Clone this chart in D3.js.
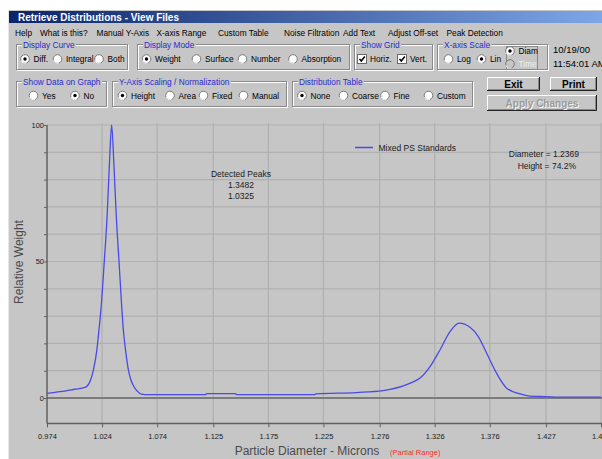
<!DOCTYPE html>
<html><head><meta charset="utf-8">
<script src="https://cdn.jsdelivr.net/npm/d3@7"></script>
<style>
html,body{margin:0;padding:0;background:#fff;overflow:hidden}
svg{display:block;font-family:"Liberation Sans",Arial,sans-serif}
</style></head>
<body>
<svg id="c" width="602" height="459"></svg>
<script>
// ---------------- DATA ----------------
const seriesName = "Mixed PS Standards";
const diameters = [0.974,0.986,0.999,1.0085,1.013,1.016,1.0194,1.0212,1.0235,1.026,1.0285,1.0307,1.0327,
  1.0348,1.0371,1.0394,1.0416,1.0433,1.0455,1.0478,1.0503,1.0524,1.0557,1.060,1.065,1.118,1.119,1.145,1.146,
  1.217,1.218,1.255,1.279,1.2975,1.305,1.3127,1.3218,1.3308,1.3399,1.3482,1.3581,1.3656,1.3732,1.3823,1.3914,
  1.4035,1.4125,1.4271,1.440,1.477];
const relWeight = [1.7,2.3,3.2,3.9,6,10,18,25,35,50,66,86,100,
  85,65,50,35,25,17,10.5,6.5,4.6,2.6,1.4,1.2,1.2,1.6,1.6,1.2,
  1.2,1.5,2.0,2.7,4.4,5.6,7.3,11.5,17.6,24.3,27.4,25.9,22.5,16.4,9.0,3.6,
  1.5,0.7,0.5,0.3,0.3];
const xTickValues = [0.974,1.024,1.074,1.125,1.175,1.225,1.276,1.326,1.376,1.427,1.477];
const xTickLabels = ["0.974","1.024","1.074","1.125","1.175","1.225","1.276","1.326","1.376","1.427","1.477"];
const yGridValues = [10,20,30,40,50,60,70,80,90,100];
const yTickValues = [0,10,20,30,40,50,60,70,80,90,100];
const yLabelValues = [0,50,100];
const detectedPeaks = ["1.3482","1.0325"];
const cursorInfo = ["Diameter = 1.2369","Height = 74.2%"];
const menuItems = [["Help",15],["What is this?",40],["Manual Y-Axis",96.5],["X-axis Range",156.5],["Custom Table",218],
  ["Noise Filtration",284],["Add Text",343],["Adjust Off-set",388],["Peak Detection",446.5]];

// ---------------- SETUP ----------------
const svg = d3.select("#c");
const BG = "#c6c6c6";
const UIF = "8.3px";
const defs = svg.append("defs");
const grad = defs.append("linearGradient").attr("id","tb").attr("x1","0").attr("x2","1");
grad.append("stop").attr("offset","0").attr("stop-color","#0a246a");
grad.append("stop").attr("offset","1").attr("stop-color","#7ea6e6");

// window body
svg.append("rect").attr("x",8).attr("y",10).attr("width",600).attr("height",460).attr("fill",BG);
svg.append("line").attr("x1",8.5).attr("x2",8.5).attr("y1",10).attr("y2",459).attr("stroke","#e6e6e6");
svg.append("rect").attr("x",9).attr("y",11).attr("width",593).attr("height",12).attr("fill","url(#tb)");
svg.append("text").attr("x",18).attr("y",20.5).attr("fill","#fff").attr("font-weight","bold")
  .attr("font-size","10px").text("Retrieve Distributions - View Files");

// menu
svg.selectAll("text.menu").data(menuItems).join("text").attr("class","menu")
  .attr("x",d=>d[1]).attr("y",36).attr("font-size",UIF).attr("fill","#000").text(d=>d[0]);

// ---------- controls ----------
function groupBox(x,y,w,h,label){
  const g = svg.append("g");
  g.append("rect").attr("x",x+0.5).attr("y",y+0.5).attr("width",w).attr("height",h).attr("fill","none").attr("stroke","#fff");
  g.append("rect").attr("x",x-0.5).attr("y",y-0.5).attr("width",w).attr("height",h).attr("fill","none").attr("stroke","#8a8a8a");
  const t = g.append("text").attr("x",x+6).attr("y",y+3).attr("font-size",UIF).attr("fill","#2a2ad0").text(label);
  const bb = t.node().getBBox();
  g.insert("rect","text").attr("x",bb.x-1).attr("y",y-2).attr("width",bb.width+2).attr("height",4).attr("fill",BG);
  return g;
}
function radio(cx,cy,label,on,disabled){
  const g = svg.append("g");
  g.append("circle").attr("cx",cx).attr("cy",cy).attr("r",4.3).attr("fill",disabled?BG:"#fff").attr("stroke","#7a7a7a").attr("stroke-width",1);
  g.append("path").attr("d",`M${cx-3.9},${cy+1.5} A4.3,4.3 0 0 0 ${cx+1.5},${cy+3.9}`).attr("stroke","#fff").attr("fill","none");
  if(on) g.append("circle").attr("cx",cx).attr("cy",cy).attr("r",1.7).attr("fill",disabled?"#999":"#000");
  g.append("text").attr("x",cx+8.5).attr("y",cy+3).attr("font-size",UIF)
    .attr("fill",disabled?"#f0f0f0":"#000").text(label);
}
function checkbox(x,cy,label){
  svg.append("rect").attr("x",x-4.5).attr("y",cy-4.5).attr("width",9).attr("height",9).attr("fill","#fff").attr("stroke","#6a6a6a");
  svg.append("path").attr("d",`M${x-2.5},${cy} L${x-0.7},${cy+2} L${x+2.8},${cy-2.5}`).attr("stroke","#000").attr("stroke-width",1.5).attr("fill","none");
  svg.append("text").attr("x",x+8).attr("y",cy+3).attr("font-size",UIF).text(label);
}
function button(x,y,w,h,label,disabled){
  svg.append("rect").attr("x",x).attr("y",y).attr("width",w).attr("height",h).attr("fill",BG);
  svg.append("path").attr("d",`M${x+0.5},${y+h} V${y+0.5} H${x+w}`).attr("stroke","#fff").attr("fill","none");
  svg.append("path").attr("d",`M${x+1},${y+h-1.5} H${x+w-1.5} V${y+1}`).attr("stroke","#888").attr("fill","none");
  svg.append("path").attr("d",`M${x},${y+h-0.5} H${x+w-0.5} V${y}`).attr("stroke","#222").attr("fill","none");
  if(disabled) svg.append("text").attr("x",x+w/2+1).attr("y",y+h/2+4.5).attr("text-anchor","middle").attr("font-size","10px").attr("font-weight","bold").attr("fill","#f4f4f4").text(label);
  svg.append("text").attr("x",x+w/2).attr("y",y+h/2+3.5).attr("text-anchor","middle").attr("font-size","10px").attr("font-weight","bold")
    .attr("fill",disabled?"#9a9a9a":"#000").text(label);
}

groupBox(17,45,111,25,"Display Curve");
radio(25,59,"Diff.",true); radio(57.5,59,"Integral",false); radio(99,59,"Both",false);
groupBox(138,45,212,25,"Display Mode");
radio(146.5,59,"Weight",true); radio(196.5,59,"Surface",false); radio(242.5,59,"Number",false); radio(293,59,"Absorption",false);
groupBox(355,45,78,25,"Show Grid");
checkbox(362,59,"Horiz."); checkbox(402,59,"Vert.");
groupBox(438,45,110,25,"X-axis Scale");
radio(448.5,59,"Log",false); radio(481.5,59,"Lin",true);
svg.append("rect").attr("x",506.5).attr("y",46.5).attr("width",31).attr("height",23).attr("fill","none").attr("stroke","#8a8a8a");
radio(510,51,"Diam",true); radio(510,64,"Time",false,true);
svg.append("text").attr("x",553).attr("y",52.5).attr("font-size","9.5px").text("10/19/00");
svg.append("text").attr("x",553).attr("y",67).attr("font-size","9.5px").text("11:54:01 AM");

groupBox(17,82,90,25,"Show Data on Graph");
radio(33.5,95.5,"Yes",false); radio(75,95.5,"No",true);
groupBox(113,82,174,25,"Y-Axis Scaling / Normalization");
radio(122.5,95.5,"Height",true); radio(170,95.5,"Area",false); radio(203.5,95.5,"Fixed",false); radio(243.5,95.5,"Manual",false);
groupBox(293,82,180,25,"Distribution Table");
radio(302,95.5,"None",true); radio(343.5,95.5,"Coarse",false); radio(385,95.5,"Fine",false); radio(428.5,95.5,"Custom",false);
button(487,77,53,14,"Exit"); button(550,77,47,14,"Print"); button(487,95,110,16,"Apply Changes",true);

// ---------------- CHART ----------------
const x = d3.scaleLinear().domain([0.974,1.477]).range([47,601]);
const y = d3.scaleLinear().domain([0,100]).range([398,125]);
const yBottom = y(-9.3), gridTop = 123;
const plot = svg.append("g");

// vertical grid
plot.selectAll("line.vg").data(xTickValues.slice(1)).join("line").attr("class","vg")
  .attr("x1",d=>x(d)).attr("x2",d=>x(d)).attr("y1",gridTop).attr("y2",yBottom)
  .attr("stroke","#b0b0b0").attr("stroke-width",1.2);
// horizontal grid
plot.selectAll("line.hg").data(yGridValues).join("line").attr("class","hg")
  .attr("x1",47).attr("x2",602).attr("y1",d=>y(d)).attr("y2",d=>y(d))
  .attr("stroke","#b0b0b0").attr("stroke-width",1.2);
// zero line
plot.append("line").attr("x1",47).attr("x2",602).attr("y1",y(0)).attr("y2",y(0)).attr("stroke","#7c7c7c").attr("stroke-width",1.8);

// axes
const xAxis = d3.axisBottom(x).tickValues(xTickValues).tickFormat((d,i)=>xTickLabels[i]).tickSize(4).tickSizeOuter(0);
const gx = plot.append("g").attr("transform",`translate(0,${yBottom})`).call(xAxis);
gx.select(".domain").attr("stroke","#606060").attr("stroke-width",1.5).attr("d",`M47,0H602`);
gx.selectAll(".tick line").attr("stroke","#606060");
gx.selectAll(".tick text").attr("font-size","7.5px").attr("fill","#202020").attr("dy","1.1em");

const yAxis = d3.axisLeft(y).tickValues(yTickValues).tickFormat(d=>yLabelValues.includes(d)?d:"").tickSize(3).tickSizeOuter(0);
const gy = plot.append("g").attr("transform","translate(47,0)").call(yAxis);
gy.select(".domain").attr("stroke","#606060").attr("stroke-width",1.5).attr("d",`M0,${y(100)}V${yBottom}`);
gy.selectAll(".tick line").attr("stroke","#606060");
gy.selectAll(".tick text").attr("font-size","7.5px").attr("fill","#202020").attr("x",-3);

// titles
plot.append("text").attr("transform","translate(23,262) rotate(-90)").attr("text-anchor","middle")
  .attr("font-size","12px").attr("fill","#4a4a4a").text("Relative Weight");
plot.append("text").attr("x",307).attr("y",455).attr("text-anchor","middle").attr("font-size","12px").attr("fill","#4a4a4a").text("Particle Diameter - Microns");
plot.append("text").attr("x",390).attr("y",455).attr("font-size","7.5px").attr("fill","#ff2a2a").text("(Partial Range)");

// curve
const pts = diameters.map((d,i)=>[d,relWeight[i]]);
const line = d3.line().x(d=>x(d[0])).y(d=>y(d[1])).curve(d3.curveMonotoneX);
plot.append("path").datum(pts).attr("d",line).attr("fill","none").attr("stroke","#4a4ae8").attr("stroke-width",1.3);

// legend
plot.append("line").attr("x1",355).attr("x2",373).attr("y1",147.5).attr("y2",147.5).attr("stroke","#4a4ae8").attr("stroke-width",1.5);
plot.append("text").attr("x",378.5).attr("y",150.5).attr("font-size","8.5px").attr("fill","#202020").text(seriesName);

// annotations
const ann = ["Detected Peaks"].concat(detectedPeaks);
plot.selectAll("text.pk").data(ann).join("text").attr("class","pk").attr("x",241).attr("y",(d,i)=>177+i*11)
  .attr("text-anchor","middle").attr("font-size","8.5px").attr("fill","#202020").text(d=>d);
plot.selectAll("text.ci").data(cursorInfo).join("text").attr("class","ci").attr("x",(d,i)=>i?576:579).attr("y",(d,i)=>157+i*12)
  .attr("text-anchor","end").attr("font-size","8.5px").attr("fill","#202020").text(d=>d);
</script>
</body></html>
